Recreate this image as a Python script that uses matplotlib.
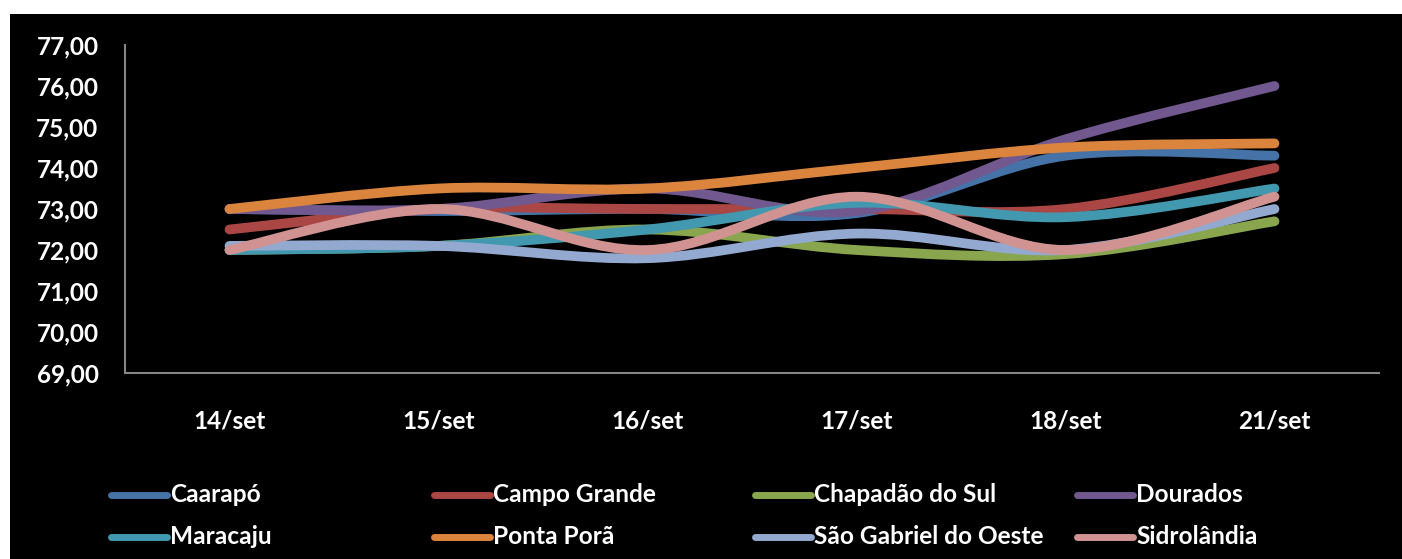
import numpy as np
import matplotlib
matplotlib.use('Agg')
import matplotlib.pyplot as plt
from matplotlib.path import Path
from matplotlib.patches import PathPatch, Rectangle
from matplotlib.lines import Line2D

# --- data ---
DATES = ['14/set', '15/set', '16/set', '17/set', '18/set', '21/set']
CITIES = ['Caarapó', 'Campo Grande', 'Chapadão do Sul', 'Dourados',
          'Maracaju', 'Ponta Porã', 'São Gabriel do Oeste', 'Sidrolândia']

caarapo = [73.0, 72.95, 73.0, 72.9, 74.3, 74.3]
campo_grande = [72.5, 73.0, 73.0, 73.0, 73.0, 74.0]
chapadao = [72.0, 72.1, 72.5, 72.0, 71.9, 72.7]
dourados = [73.0, 73.0, 73.5, 72.95, 74.7, 76.0]
maracaju = [72.0, 72.1, 72.5, 73.15, 72.8, 73.5]
ponta_pora = [73.0, 73.5, 73.5, 74.0, 74.5, 74.6]
sao_gabriel = [72.1, 72.1, 71.8, 72.4, 72.0, 73.0]
sidrolandia = [72.0, 73.0, 72.0, 73.3, 72.0, 73.3]

SERIES = [caarapo, campo_grande, chapadao, dourados,
          maracaju, ponta_pora, sao_gabriel, sidrolandia]
COLORS = ['#4572A7', '#AA4643', '#89A54E', '#71588F',
          '#4198AF', '#DB843D', '#93A9CF', '#D19392']

FONT = ['Lato', 'DejaVu Sans']
FS = 17.6


def smooth_path(xs, ys):
    """Excel-style smoothed line: cubic bezier segments (Catmull-Rom control points)."""
    pts = np.column_stack([xs, ys]).astype(float)
    n = len(pts)
    verts = [pts[0]]
    codes = [Path.MOVETO]
    for i in range(n - 1):
        p0 = pts[i - 1] if i > 0 else pts[i]
        p1 = pts[i]
        p2 = pts[i + 1]
        p3 = pts[i + 2] if i + 2 < n else pts[i + 1]
        c1 = p1 + (p2 - p0) / 6.0
        c2 = p2 - (p3 - p1) / 6.0
        verts += [c1, c2, p2]
        codes += [Path.CURVE4] * 3
    return Path(verts, codes)


fig = plt.figure(figsize=(14.02, 5.59), dpi=100, facecolor='white')
# black chart area (white strip on top / left like the source screenshot)
fig.add_artist(Rectangle((10 / 1402, 0), 1 - 10 / 1402, 1 - 14 / 559,
                         transform=fig.transFigure, facecolor='black',
                         edgecolor='none', zorder=0))

ax = fig.add_axes([125 / 1402, 1 - 373 / 559, (1379 - 125) / 1402, (373 - 45) / 559])
ax.set_facecolor('black')

x = np.arange(len(DATES))
for vals, col in zip(SERIES, COLORS):
    patch = PathPatch(smooth_path(x, vals), facecolor='none', edgecolor=col,
                      linewidth=7, capstyle='round', joinstyle='round',
                      transform=ax.transData)
    ax.add_patch(patch)

ax.set_xlim(-0.5, len(DATES) - 0.5)
ax.set_ylim(69, 77)
ax.set_yticks(np.arange(69, 78, 1))
ax.set_yticklabels([f'{v:.2f}'.replace('.', ',') for v in np.arange(69, 78, 1)])
ax.set_xticks(x)
ax.set_xticklabels(DATES)

for side in ['top', 'right']:
    ax.spines[side].set_visible(False)
for side in ['left', 'bottom']:
    ax.spines[side].set_color('#868686')
    ax.spines[side].set_linewidth(1.5)

ax.tick_params(axis='both', length=0, colors='white')
ax.tick_params(axis='y', pad=19)
ax.tick_params(axis='x', pad=26)
for lab in ax.get_xticklabels() + ax.get_yticklabels():
    lab.set_family(FONT)
    lab.set_fontweight('bold')
    lab.set_fontsize(FS)
    lab.set_color('white')

# legend: 4 equal columns, 2 rows
col_x = [111, 434, 755, 1077]
row_y = [495, 537]
for i, (name, col) in enumerate(zip(CITIES, COLORS)):
    cx = col_x[i % 4]
    cy = row_y[i // 4]
    fy = 1 - cy / 559
    fig.add_artist(Line2D([cx / 1402, (cx + 56) / 1402], [fy, fy],
                          transform=fig.transFigure, color=col,
                          linewidth=5, solid_capstyle='round'))
    fig.text((cx + 59) / 1402, fy, name, color='white', fontsize=FS,
             fontweight='bold', family=FONT, va='center', ha='left')

fig.savefig('out.png', dpi=100, facecolor=fig.get_facecolor())
